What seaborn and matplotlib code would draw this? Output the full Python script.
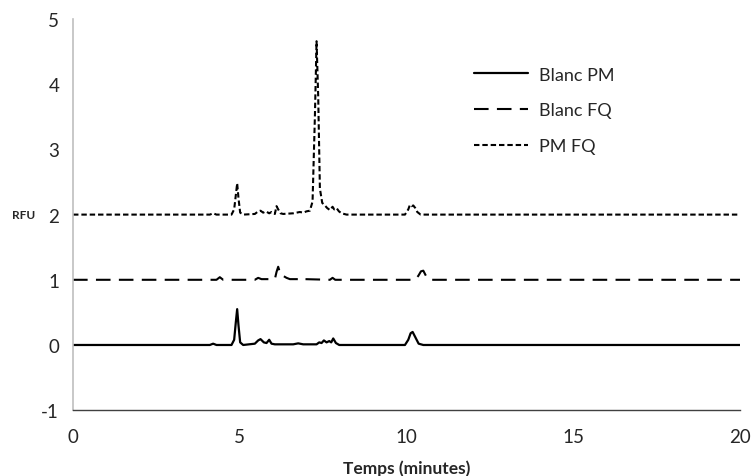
import matplotlib
matplotlib.use("Agg")
import matplotlib.pyplot as plt
import pandas as pd
import seaborn as sns

# Blanc PM (trace pleine, ligne de base 0)
t_blanc_pm = [0, 4.1, 4.2, 4.3, 4.75, 4.83, 4.88, 4.92, 4.96, 5.01, 5.1, 5.45, 5.55, 5.62, 5.72,
              5.8, 5.88, 5.95, 6.05, 6.6, 6.75, 6.9, 7.3, 7.38, 7.45, 7.52, 7.6, 7.68, 7.74, 7.8,
              7.88, 7.98, 9.95, 10.05, 10.12, 10.18, 10.26, 10.36, 10.5, 20]
v_blanc_pm = [0, 0, 0.02, 0, 0, 0.08, 0.35, 0.55, 0.3, 0.04, 0, 0.02, 0.07, 0.09, 0.04,
              0.03, 0.08, 0.02, 0.01, 0.01, 0.025, 0.01, 0.01, 0.04, 0.03, 0.07, 0.04, 0.06, 0.04, 0.1,
              0.03, 0, 0, 0.08, 0.18, 0.2, 0.12, 0.02, 0, 0]

# Blanc FQ (tirets longs, ligne de base 1)
t_blanc_fq = [0, 4.3, 4.4, 4.5, 5.45, 5.55, 5.65, 6.05, 6.1, 6.15, 6.22, 6.3, 6.4, 6.5, 6.8,
              6.88, 6.95, 7.7, 7.78, 7.86, 10.25, 10.35, 10.43, 10.5, 10.58, 10.68, 20]
v_blanc_fq = [1, 1, 1.04, 1, 1, 1.03, 1.01, 1.01, 1.12, 1.2, 1.08, 1.06, 1.03, 1.01, 1.01,
              1.03, 1.01, 1.0, 1.03, 1.0, 1.0, 1.06, 1.13, 1.14, 1.06, 1.0, 1.0]

# PM FQ (tirets courts, ligne de base 2)
t_pm_fq = [0, 4.1, 4.2, 4.3, 4.75, 4.83, 4.88, 4.92, 4.96, 5.01, 5.1, 5.45, 5.55, 5.62, 5.7,
           5.78, 5.88, 5.95, 6.05, 6.1, 6.15, 6.22, 6.3, 6.6, 6.8, 6.9, 7.0, 7.1, 7.18, 7.25,
           7.3, 7.35, 7.4, 7.47, 7.55, 7.62, 7.7, 7.78, 7.83, 7.9, 7.97, 8.05, 8.2, 9.95, 10.05,
           10.1, 10.15, 10.2, 10.26, 10.32, 10.42, 20]
v_pm_fq = [2, 2, 2.02, 2, 2, 2.08, 2.3, 2.48, 2.25, 2.03, 2.0, 2.01, 2.05, 2.06, 2.03,
           2.05, 2.02, 2.04, 2.01, 2.13, 2.08, 2.02, 2.01, 2.02, 2.04, 2.03, 2.05, 2.06, 2.2, 3.5,
           4.66, 3.8, 2.4, 2.18, 2.14, 2.1, 2.07, 2.12, 2.08, 2.1, 2.05, 2.02, 2.0, 2.0, 2.08,
           2.15, 2.13, 2.14, 2.1, 2.04, 2.0, 2.0]

x_ticks = [0, 5, 10, 15, 20]
y_ticks = [-1, 0, 1, 2, 3, 4, 5]

sns.set_style("white")
plt.rcParams["font.family"] = ["Lato", "DejaVu Sans"]
plt.rcParams["axes.unicode_minus"] = False

fig = plt.figure(figsize=(7.53, 4.77), dpi=100)
ax = fig.add_axes([0.097, 0.138, 0.886, 0.82])

series = [
    ("Blanc PM", t_blanc_pm, v_blanc_pm, (None, None), 1.6),
    ("Blanc FQ", t_blanc_fq, v_blanc_fq, (0, (7, 4)), 1.5),
    ("PM FQ", t_pm_fq, v_pm_fq, (0, (2.6, 1.4)), 1.5),
]
for name, t, v, dash, lw in series:
    df = pd.DataFrame({"t": t, "v": v})
    line_kw = {} if dash[0] is None else {"linestyle": dash}
    sns.lineplot(data=df, x="t", y="v", ax=ax, color="black", lw=lw, label=name,
                 sort=False, **line_kw)

ax.set_xlim(0, 20)
ax.set_ylim(-1, 5)
ax.set_xticks(x_ticks)
ax.set_yticks(y_ticks)
ax.tick_params(axis="both", labelsize=13.5, direction="out", length=5, width=1)
ax.tick_params(axis="y", color="#a6a6a6", pad=5)
ax.tick_params(axis="x", color="#404040", pad=8)

for side in ["top", "right"]:
    ax.spines[side].set_visible(False)
ax.spines["left"].set_color("#bfbfbf")
ax.spines["left"].set_linewidth(1.2)
ax.spines["bottom"].set_color("#404040")
ax.spines["bottom"].set_linewidth(1)

ax.set_xlabel("Temps (minutes)", fontsize=12.5, fontweight="bold", labelpad=10)
ax.set_ylabel("")
ax.text(-0.092, 2, "RFU", transform=ax.get_yaxis_transform(), fontsize=8.5,
        fontweight="bold", va="center", ha="left")

leg = ax.legend(loc="upper left", bbox_to_anchor=(0.576, 0.92), frameon=False,
                fontsize=13, handlelength=3.0, labelspacing=1.1, handletextpad=0.6)

fig.savefig("out.png", dpi=100)
